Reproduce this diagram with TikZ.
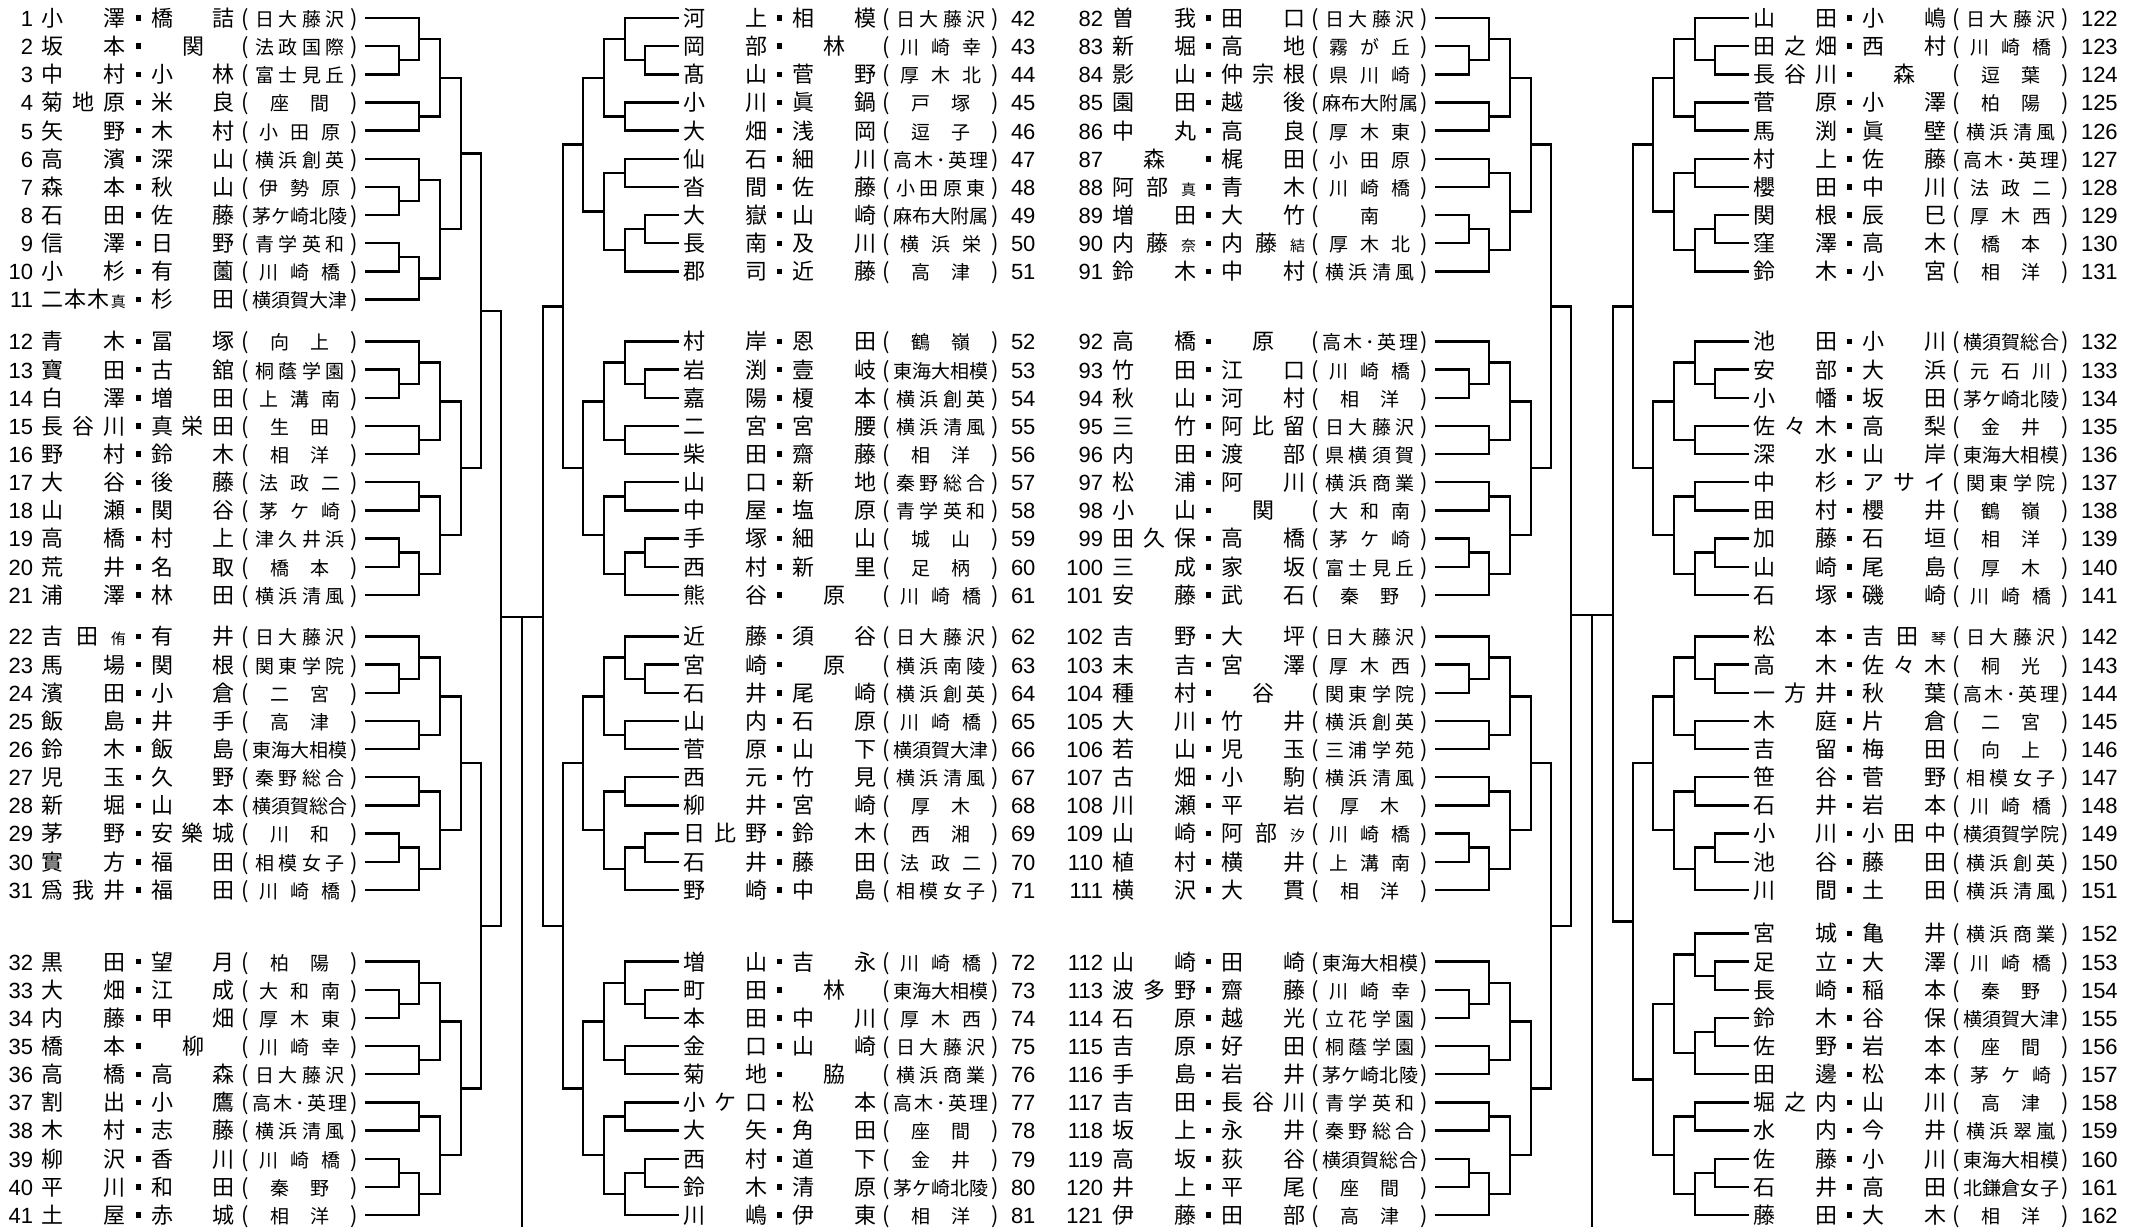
\documentclass[tikz,border=0pt]{standalone}
\usepackage{fontspec}
\setmainfont{Noto Sans CJK JP}
\newfontfamily\numfont{Liberation Sans}
\usetikzlibrary{calc}
\newcommand\namef{\fontsize{22}{24}\selectfont}
\newcommand\schf{\fontsize{19}{21}\selectfont}
\newcommand\smf{\fontsize{15}{16}\selectfont}
\newcommand\numf{\numfont\fontsize{22}{24}\selectfont}
\newcommand\sMa{{\smf 真}}
\newcommand\sYu{{\smf 侑}}
\newcommand\sNa{{\smf 奈}}
\newcommand\sYui{{\smf 結}}
\newcommand\sShio{{\smf 汐}}
\newcommand\sKoto{{\smf 琴}}
\makeatletter
\def\spr#1{\spr@a#1\@nil}
\def\spr@a#1#2\@nil{\ifx\relax#2\relax\hfil#1\hfil\else#1\spr@b#2\@nil\fi}
\def\spr@b#1#2\@nil{\hfill#1\ifx\relax#2\relax\else\spr@b#2\@nil\fi}
\newcount\chcnt
\def\cnt@a#1{\ifx\@nil#1\else\advance\chcnt by 1 \expandafter\cnt@a\fi}
\newcommand\schoolbox[1]{\chcnt=0 \cnt@a#1\@nil\hbox to \ifcase\chcnt 20\or 20\or 59\or 81\or 89\else 96\fi pt{\schf\spr{#1}}}
\makeatother
\newcommand\sqdot{\makebox[25pt]{\raisebox{5.6pt}{\rule{5.5pt}{5.5pt}}}}
\newcommand\Lpar{\makebox[20pt]{(}}
\newcommand\Rpar{\makebox[18pt]{)}}
\newcommand\nbox[1]{\hbox to 84pt{\spr{#1}}}
\newcommand\ebody[3]{\nbox{#1}\sqdot\nbox{#2}\Lpar\makebox[90pt]{\schoolbox{#3}}\Rpar}
\newcommand\SG[4]{\def\grp{#1}\def\grpx{#2}\def\grpy{#3}\def\grps{#4}}
\newcommand\Ent[5]{%
  \pgfmathsetmacro\yl{-(\grpy+#1*28.15)}%
  \pgfmathsetmacro\yb{\yl-8.4}%
  \if L\grps
    \node[ent] (n#2) at (\grpx,\yb) {\makebox[33pt][r]{\numf #2}\hspace{9pt}\ebody{#3}{#4}{#5}};
    \pgfmathsetmacro\xl{\grpx+365}%
  \else
    \pgfmathsetmacro\xn{\grpx+42}%
    \node[ent] (n#2) at (\xn,\yb) {\ebody{#3}{#4}{#5}\hspace{7pt}{\numf #2}};
    \pgfmathsetmacro\xl{\grpx+38}%
  \fi
  \coordinate (\grp-#1) at (\xl,\yl);}
\newcommand\mrg[4]{%
  \path let \p1=(#2), \p2=(#3) in coordinate (#1) at (#4pt,{0.5*\y1+0.5*\y2});
  \draw[br] (#2) -- (#2 -| #1) -- (#3 -| #1) -- (#3);}
\newcommand\mg[4]{\pgfmathsetmacro\xx{\bB+(\bD)*#4}\mrg{#1}{#2}{#3}{\xx}}
\newcommand\TEN[3]{\def\bB{#2}\def\bD{#3}%
  \mg{#1-a1}{#1-1}{#1-2}{399}\mg{#1-b1}{#1-0}{#1-a1}{419}\mg{#1-b2}{#1-3}{#1-4}{419}\mg{#1-c1}{#1-b1}{#1-b2}{440}%
  \mg{#1-b3}{#1-5}{#1-6}{419}\mg{#1-a2}{#1-7}{#1-8}{399}\mg{#1-b4}{#1-a2}{#1-9}{419}\mg{#1-c2}{#1-b3}{#1-b4}{440}%
  \mg{#1}{#1-c1}{#1-c2}{461}}
\newcommand\ELA[3]{\def\bB{#2}\def\bD{#3}%
  \mg{#1-a1}{#1-1}{#1-2}{399}\mg{#1-b1}{#1-0}{#1-a1}{419}\mg{#1-b2}{#1-3}{#1-4}{419}\mg{#1-c1}{#1-b1}{#1-b2}{440}%
  \mg{#1-a2}{#1-6}{#1-7}{399}\mg{#1-b3}{#1-5}{#1-a2}{419}\mg{#1-a3}{#1-8}{#1-9}{399}\mg{#1-b4}{#1-a3}{#1-10}{419}%
  \mg{#1-c2}{#1-b3}{#1-b4}{440}\mg{#1}{#1-c1}{#1-c2}{461}}
\newcommand\ELB[3]{\def\bB{#2}\def\bD{#3}%
  \mg{#1-a1}{#1-1}{#1-2}{399}\mg{#1-b1}{#1-0}{#1-a1}{419}\mg{#1-a2}{#1-3}{#1-4}{399}\mg{#1-b2}{#1-a2}{#1-5}{419}%
  \mg{#1-c1}{#1-b1}{#1-b2}{440}%
  \mg{#1-b3}{#1-6}{#1-7}{419}\mg{#1-a3}{#1-8}{#1-9}{399}\mg{#1-b4}{#1-a3}{#1-10}{419}%
  \mg{#1-c2}{#1-b3}{#1-b4}{440}\mg{#1}{#1-c1}{#1-c2}{461}}
\tikzset{ent/.style={inner sep=0pt, outer sep=0pt, anchor=base west, font=\namef},
  br/.style={line width=2.4pt, line join=miter, black}}
\begin{document}
\begin{tikzpicture}[x=1pt,y=1pt]
\fill[white] (0,0) rectangle (2138,-1227);
\useasboundingbox (0,0) rectangle (2138,-1227);
% ---------------- column 1 ----------------
\SG{c1g1}{0}{18}{L}
\Ent{0}{1}{小澤}{橋詰}{日大藤沢}
\Ent{1}{2}{坂本}{関}{法政国際}
\Ent{2}{3}{中村}{小林}{富士見丘}
\Ent{3}{4}{菊地原}{米良}{座間}
\Ent{4}{5}{矢野}{木村}{小田原}
\Ent{5}{6}{高濱}{深山}{横浜創英}
\Ent{6}{7}{森本}{秋山}{伊勢原}
\Ent{7}{8}{石田}{佐藤}{茅ケ崎北陵}
\Ent{8}{9}{信澤}{日野}{青学英和}
\Ent{9}{10}{小杉}{有薗}{川崎橋}
\Ent{10}{11}{二本木\sMa}{杉田}{横須賀大津}
\SG{c1g2}{0}{341.5}{L}
\Ent{0}{12}{青木}{冨塚}{向上}
\Ent{1}{13}{寶田}{古舘}{桐蔭学園}
\Ent{2}{14}{白澤}{増田}{上溝南}
\Ent{3}{15}{長谷川}{真栄田}{生田}
\Ent{4}{16}{野村}{鈴木}{相洋}
\Ent{5}{17}{大谷}{後藤}{法政二}
\Ent{6}{18}{山瀬}{関谷}{茅ケ崎}
\Ent{7}{19}{高橋}{村上}{津久井浜}
\Ent{8}{20}{荒井}{名取}{橋本}
\Ent{9}{21}{浦澤}{林田}{横浜清風}
\SG{c1g3}{0}{636.5}{L}
\Ent{0}{22}{吉田\sYu}{有井}{日大藤沢}
\Ent{1}{23}{馬場}{関根}{関東学院}
\Ent{2}{24}{濱田}{小倉}{二宮}
\Ent{3}{25}{飯島}{井手}{高津}
\Ent{4}{26}{鈴木}{飯島}{東海大相模}
\Ent{5}{27}{児玉}{久野}{秦野総合}
\Ent{6}{28}{新堀}{山本}{横須賀総合}
\Ent{7}{29}{茅野}{安樂城}{川和}
\Ent{8}{30}{實方}{福田}{相模女子}
\Ent{9}{31}{爲我井}{福田}{川崎橋}
\SG{c1g4}{0}{961.65}{L}
\Ent{0}{32}{黒田}{望月}{柏陽}
\Ent{1}{33}{大畑}{江成}{大和南}
\Ent{2}{34}{内藤}{甲畑}{厚木東}
\Ent{3}{35}{橋本}{柳}{川崎幸}
\Ent{4}{36}{高橋}{高森}{日大藤沢}
\Ent{5}{37}{割出}{小鷹}{高木･英理}
\Ent{6}{38}{木村}{志藤}{横浜清風}
\Ent{7}{39}{柳沢}{香川}{川崎橋}
\Ent{8}{40}{平川}{和田}{秦野}
\Ent{9}{41}{土屋}{赤城}{相洋}
% ---------------- column 2 ----------------
\SG{c2g1}{641}{18}{R}
\Ent{0}{42}{河上}{相模}{日大藤沢}
\Ent{1}{43}{岡部}{林}{川崎幸}
\Ent{2}{44}{髙山}{菅野}{厚木北}
\Ent{3}{45}{小川}{眞鍋}{戸塚}
\Ent{4}{46}{大畑}{浅岡}{逗子}
\Ent{5}{47}{仙石}{細川}{高木･英理}
\Ent{6}{48}{沓間}{佐藤}{小田原東}
\Ent{7}{49}{大嶽}{山崎}{麻布大附属}
\Ent{8}{50}{長南}{及川}{横浜栄}
\Ent{9}{51}{郡司}{近藤}{高津}
\SG{c2g2}{641}{341.5}{R}
\Ent{0}{52}{村岸}{恩田}{鶴嶺}
\Ent{1}{53}{岩渕}{壹岐}{東海大相模}
\Ent{2}{54}{嘉陽}{榎本}{横浜創英}
\Ent{3}{55}{二宮}{宮腰}{横浜清風}
\Ent{4}{56}{柴田}{齋藤}{相洋}
\Ent{5}{57}{山口}{新地}{秦野総合}
\Ent{6}{58}{中屋}{塩原}{青学英和}
\Ent{7}{59}{手塚}{細山}{城山}
\Ent{8}{60}{西村}{新里}{足柄}
\Ent{9}{61}{熊谷}{原}{川崎橋}
\SG{c2g3}{641}{636.5}{R}
\Ent{0}{62}{近藤}{須谷}{日大藤沢}
\Ent{1}{63}{宮崎}{原}{横浜南陵}
\Ent{2}{64}{石井}{尾崎}{横浜創英}
\Ent{3}{65}{山内}{石原}{川崎橋}
\Ent{4}{66}{菅原}{山下}{横須賀大津}
\Ent{5}{67}{西元}{竹見}{横浜清風}
\Ent{6}{68}{柳井}{宮崎}{厚木}
\Ent{7}{69}{日比野}{鈴木}{西湘}
\Ent{8}{70}{石井}{藤田}{法政二}
\Ent{9}{71}{野崎}{中島}{相模女子}
\SG{c2g4}{641}{961.65}{R}
\Ent{0}{72}{増山}{吉永}{川崎橋}
\Ent{1}{73}{町田}{林}{東海大相模}
\Ent{2}{74}{本田}{中川}{厚木西}
\Ent{3}{75}{金口}{山崎}{日大藤沢}
\Ent{4}{76}{菊地}{脇}{横浜商業}
\Ent{5}{77}{小ケ口}{松本}{高木･英理}
\Ent{6}{78}{大矢}{角田}{座間}
\Ent{7}{79}{西村}{道下}{金井}
\Ent{8}{80}{鈴木}{清原}{茅ケ崎北陵}
\Ent{9}{81}{川嶋}{伊東}{相洋}
% ---------------- column 3 ----------------
\SG{c3g1}{1070}{18}{L}
\Ent{0}{82}{曽我}{田口}{日大藤沢}
\Ent{1}{83}{新堀}{高地}{霧が丘}
\Ent{2}{84}{影山}{仲宗根}{県川崎}
\Ent{3}{85}{園田}{越後}{麻布大附属}
\Ent{4}{86}{中丸}{高良}{厚木東}
\Ent{5}{87}{森}{梶田}{小田原}
\Ent{6}{88}{阿部\sMa}{青木}{川崎橋}
\Ent{7}{89}{増田}{大竹}{南}
\Ent{8}{90}{内藤\sNa}{内藤\sYui}{厚木北}
\Ent{9}{91}{鈴木}{中村}{横浜清風}
\SG{c3g2}{1070}{341.5}{L}
\Ent{0}{92}{高橋}{原}{高木･英理}
\Ent{1}{93}{竹田}{江口}{川崎橋}
\Ent{2}{94}{秋山}{河村}{相洋}
\Ent{3}{95}{三竹}{阿比留}{日大藤沢}
\Ent{4}{96}{内田}{渡部}{県横須賀}
\Ent{5}{97}{松浦}{阿川}{横浜商業}
\Ent{6}{98}{小山}{関}{大和南}
\Ent{7}{99}{田久保}{高橋}{茅ケ崎}
\Ent{8}{100}{三成}{家坂}{富士見丘}
\Ent{9}{101}{安藤}{武石}{秦野}
\SG{c3g3}{1070}{636.5}{L}
\Ent{0}{102}{吉野}{大坪}{日大藤沢}
\Ent{1}{103}{末吉}{宮澤}{厚木西}
\Ent{2}{104}{種村}{谷}{関東学院}
\Ent{3}{105}{大川}{竹井}{横浜創英}
\Ent{4}{106}{若山}{児玉}{三浦学苑}
\Ent{5}{107}{古畑}{小駒}{横浜清風}
\Ent{6}{108}{川瀬}{平岩}{厚木}
\Ent{7}{109}{山崎}{阿部\sShio}{川崎橋}
\Ent{8}{110}{植村}{横井}{上溝南}
\Ent{9}{111}{横沢}{大貫}{相洋}
\SG{c3g4}{1070}{961.65}{L}
\Ent{0}{112}{山崎}{田崎}{東海大相模}
\Ent{1}{113}{波多野}{齋藤}{川崎幸}
\Ent{2}{114}{石原}{越光}{立花学園}
\Ent{3}{115}{吉原}{好田}{桐蔭学園}
\Ent{4}{116}{手島}{岩井}{茅ケ崎北陵}
\Ent{5}{117}{吉田}{長谷川}{青学英和}
\Ent{6}{118}{坂上}{永井}{秦野総合}
\Ent{7}{119}{高坂}{荻谷}{横須賀総合}
\Ent{8}{120}{井上}{平尾}{座間}
\Ent{9}{121}{伊藤}{田部}{高津}
% ---------------- column 4 ----------------
\SG{c4g1}{1711}{18}{R}
\Ent{0}{122}{山田}{小嶋}{日大藤沢}
\Ent{1}{123}{田之畑}{西村}{川崎橋}
\Ent{2}{124}{長谷川}{森}{逗葉}
\Ent{3}{125}{菅原}{小澤}{柏陽}
\Ent{4}{126}{馬渕}{眞壁}{横浜清風}
\Ent{5}{127}{村上}{佐藤}{高木･英理}
\Ent{6}{128}{櫻田}{中川}{法政二}
\Ent{7}{129}{関根}{辰巳}{厚木西}
\Ent{8}{130}{窪澤}{高木}{橋本}
\Ent{9}{131}{鈴木}{小宮}{相洋}
\SG{c4g2}{1711}{341.5}{R}
\Ent{0}{132}{池田}{小川}{横須賀総合}
\Ent{1}{133}{安部}{大浜}{元石川}
\Ent{2}{134}{小幡}{坂田}{茅ケ崎北陵}
\Ent{3}{135}{佐々木}{高梨}{金井}
\Ent{4}{136}{深水}{山岸}{東海大相模}
\Ent{5}{137}{中杉}{アサイ}{関東学院}
\Ent{6}{138}{田村}{櫻井}{鶴嶺}
\Ent{7}{139}{加藤}{石垣}{相洋}
\Ent{8}{140}{山崎}{尾島}{厚木}
\Ent{9}{141}{石塚}{磯崎}{川崎橋}
\SG{c4g3}{1711}{636.5}{R}
\Ent{0}{142}{松本}{吉田\sKoto}{日大藤沢}
\Ent{1}{143}{高木}{佐々木}{桐光}
\Ent{2}{144}{一方井}{秋葉}{高木･英理}
\Ent{3}{145}{木庭}{片倉}{二宮}
\Ent{4}{146}{吉留}{梅田}{向上}
\Ent{5}{147}{笹谷}{菅野}{相模女子}
\Ent{6}{148}{石井}{岩本}{川崎橋}
\Ent{7}{149}{小川}{小田中}{横須賀学院}
\Ent{8}{150}{池谷}{藤田}{横浜創英}
\Ent{9}{151}{川間}{土田}{横浜清風}
\SG{c4g4}{1711}{933.5}{R}
\Ent{0}{152}{宮城}{亀井}{横浜商業}
\Ent{1}{153}{足立}{大澤}{川崎橋}
\Ent{2}{154}{長崎}{稲本}{秦野}
\Ent{3}{155}{鈴木}{谷保}{横須賀大津}
\Ent{4}{156}{佐野}{岩本}{座間}
\Ent{5}{157}{田邊}{松本}{茅ケ崎}
\Ent{6}{158}{堀之内}{山川}{高津}
\Ent{7}{159}{水内}{今井}{横浜翠嵐}
\Ent{8}{160}{佐藤}{小川}{東海大相模}
\Ent{9}{161}{石井}{高田}{北鎌倉女子}
\Ent{10}{162}{藤田}{大木}{相洋}
% ---------------- brackets ----------------
\ELA{c1g1}{0}{1}\TEN{c1g2}{0}{1}\TEN{c1g3}{0}{1}\TEN{c1g4}{0}{1}
\mg{c1e1}{c1g1}{c1g2}{481}\mg{c1e2}{c1g3}{c1g4}{481}
\TEN{c2g1}{1044}{-1}\TEN{c2g2}{1044}{-1}\TEN{c2g3}{1044}{-1}\TEN{c2g4}{1044}{-1}
\mg{c2e1}{c2g1}{c2g2}{481}\mg{c2e2}{c2g3}{c2g4}{481}
\TEN{c3g1}{1070}{1}\TEN{c3g2}{1070}{1}\TEN{c3g3}{1070}{1}\TEN{c3g4}{1070}{1}
\mg{c3e1}{c3g1}{c3g2}{481}\mg{c3e2}{c3g3}{c3g4}{481}
\TEN{c4g1}{2114}{-1}\TEN{c4g2}{2114}{-1}\TEN{c4g3}{2114}{-1}\ELB{c4g4}{2114}{-1}
\mg{c4e1}{c4g1}{c4g2}{481}\mg{c4e2}{c4g3}{c4g4}{481}
% finals
\coordinate (c1f) at (501,-617); \coordinate (c2f) at (543,-617);
\coordinate (lc) at (522,-617); \coordinate (lb) at (522,-1227);
\draw[br] (c1e1) -- (c1e1 -| c1f) -- (c1e2 -| c1f) -- (c1e2);
\draw[br] (c2e1) -- (c2e1 -| c2f) -- (c2e2 -| c2f) -- (c2e2);
\draw[br] (c1f) -- (c2f);
\draw[br] (lc) -- (lb);
\coordinate (c3f) at (1571,-615); \coordinate (c4f) at (1613,-615);
\coordinate (rc) at (1592,-615); \coordinate (rb) at (1592,-1227);
\draw[br] (c3e1) -- (c3e1 -| c3f) -- (c3e2 -| c3f) -- (c3e2);
\draw[br] (c4e1) -- (c4e1 -| c4f) -- (c4e2 -| c4f) -- (c4e2);
\draw[br] (c3f) -- (c4f);
\draw[br] (rc) -- (rb);
\end{tikzpicture}
\end{document}
